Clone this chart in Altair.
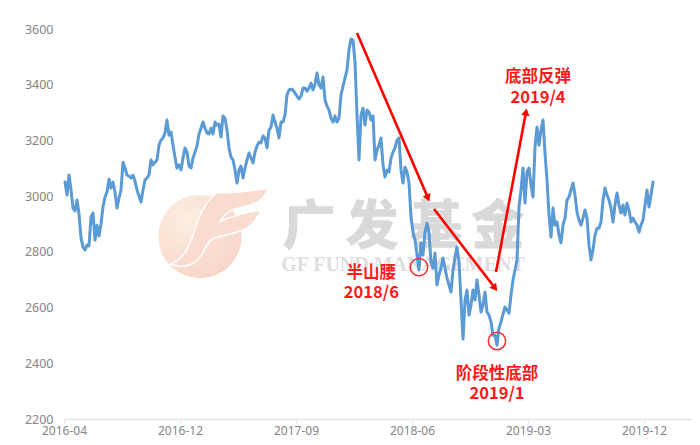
import altair as alt
import pandas as pd

index_values = [
3051,3004,3076,3022,2957,2947,2986,2936,2850,2817,2807,2824,2821,2925,2939,2842,2896,2857,2900,2961,
2997,3015,3061,3029,3051,3015,2957,2993,3022,3122,3101,3076,3072,3065,3076,3054,3022,3000,2979,3022,
3058,3065,3076,3130,3112,3122,3130,3183,3201,3209,3227,3273,3219,
3230,3183,3140,3101,3112,3094,3137,3173,3158,3108,3101,3137,3158,3180,3223,3244,3266,3244,3227,3223,
3244,3223,3266,3255,3259,3212,3288,3280,3237,3173,3140,3130,3094,3047,3094,3108,3065,3101,3130,3155,
3137,3119,3158,3180,3194,3191,3216,3209,3173,3237,3248,3291,3266,3244,3209,3266,3266,3291,3363,3381,
3384,3381,3370,3359,3349,3359,3388,3388,3377,3388,3406,3381,3402,3442,3399,3388,3428,3345,3323,3309,
3280,3266,3288,3266,3280,3363,3395,3424,3453,3525,3564,3560,
3481,3291,3130,3291,3316,3255,3309,3302,3273,3288,3130,3166,3183,3209,3112,3069,3094,3087,3137,3158,
3173,3201,3209,3094,3047,3104,3087,3047,2925,2871,2842,2789,2735,2832,2789,2871,2903,2871,2763,2742,
2796,2681,2717,2742,2778,2742,2706,2681,2656,2735,2781,2817,2763,2627,2487,2627,2663,2573,2609,2663,
2627,2699,2645,2584,2609,2656,2584,2573,2548,2501,2501,2465,2527,2548,2577,2602,2591,2580,2645,2699,
2735,2771,2961,3022,3101,2975,3087,3101,3040,2997,3176,3248,3183,3237,3273,3155,3058,2932,2853,2957,
2896,2907,2860,2832,2896,2921,2986,2997,3022,3047,3004,2943,2914,2896,2921,2950,2921,2824,2771,2807,
2860,2885,2885,2907,2986,3029,3004,2986,2957,2907,2968,3011,2968,2939,2968,2932,2975,2950,2907,2921,
2907,2896,2871,2896,2914,2968,3022,2961,3004,3051,
]
trading_days = [1.5 + 3 * i for i in range(len(index_values))]

tick_labels = ["2016-04", "2016-12", "2017-09", "2018-06", "2019-03", "2019-12"]
tick_days = [0, 174, 348, 522, 696, 870]
y_ticks = [2200, 2400, 2600, 2800, 3000, 3200, 3400, 3600]

arrow_day_start = [439.5, 555, 648]
arrow_val_start = [3586, 2954, 2728]
arrow_day_end = [546, 646.5, 693]
arrow_val_end = [2993, 2670, 3302]
arrow_angle = [156.7, 142.3, 10.6]

circle_days = [532.5, 649.5]
circle_vals = [2745, 2480]

note_text = ["半山腰", "2018/6", "阶段性底部", "2019/1", "底部反弹", "2019/4"]
note_days = [461, 461, 649.5, 649.5, 711, 711]
note_vals = [2723, 2653, 2360, 2291, 3427, 3354]

brand_chars = ["广", "发", "基", "金"]
brand_days = [367.5, 462, 558, 651]
brand_vals = [2886, 2886, 2886, 2886]

x_scale = alt.Scale(domain=[0, 942], nice=False, zero=False)
y_scale = alt.Scale(domain=[2200, 3600], nice=False, zero=False)
label_expr = "[" + ",".join(f"'{t}'" for t in tick_labels) + "][round(datum.value/174)]"
x_axis = alt.Axis(values=tick_days, labelExpr=label_expr, title=None, grid=False,
                  domainColor="#e3e3e3", domainWidth=1.5, tickColor="#e3e3e3", tickSize=4,
                  labelColor="#858585", labelFontSize=12, labelFont="Noto Sans", labelPadding=2,
                  labelFlush=False, labelOverlap=False)
y_axis = alt.Axis(values=y_ticks, format="d", title=None, grid=False, domain=False, ticks=False,
                  labelColor="#858585", labelFontSize=12.5, labelFont="Noto Sans", labelPadding=11)

X = alt.X("d:Q", scale=x_scale, axis=x_axis)
Y = alt.Y("v:Q", scale=y_scale, axis=y_axis)

main = pd.DataFrame({"d": trading_days, "v": index_values})
arrows = pd.DataFrame({"d": arrow_day_start, "v": arrow_val_start,
                       "d2": arrow_day_end, "v2": arrow_val_end, "a": arrow_angle})
circles = pd.DataFrame({"d": circle_days, "v": circle_vals})
notes = pd.DataFrame({"d": note_days, "v": note_vals, "t": note_text})
brand = pd.DataFrame({"d": brand_days, "v": brand_vals, "t": brand_chars})
logo_pos = pd.DataFrame({"d": [204], "v": [2855]})
sub_pos = pd.DataFrame({"d": [508.5], "v": [2753], "t": ["GF FUND MANAGEMENT"]})

disc = alt.Chart(logo_pos).mark_point(
    shape="circle", size=6940, filled=True, opacity=1, strokeWidth=0,
    fill=alt.RadialGradient(gradient="radial", x1=0.33, y1=0.3, x2=0.33, y2=0.3, r1=0, r2=0.85,
                            stops=[alt.GradientStop(offset=0, color="#fcefe0"),
                                   alt.GradientStop(offset=1, color="#f8d2c8")]),
).encode(x=X, y=Y)

f_path = ("M -.64 .59 Q -.3 .47 -.16 0 Q .04 -.71 .36 -.93 Q .9 -.92 1.45 -1.04 "
          "Q 1.36 -.75 1.1 -.68 Q .75 -.6 .6 -.52 Q .5 -.45 .43 -.32 Q .7 -.45 1.3 -.57 "
          "Q 1.2 -.3 .95 -.15 Q .6 -.03 .4 0 Q .2 .02 .08 .3 Q -.05 .6 -.35 .63 Q -.5 .63 -.64 .59 Z")
wing = alt.Chart(logo_pos).mark_point(
    shape=f_path, size=8836, filled=True, opacity=1, fill="#f9dccf", stroke="#ffffff", strokeWidth=1.5,
).encode(x=X, y=Y)

brand_text = alt.Chart(brand).mark_text(
    font="Noto Sans CJK SC", fontWeight="bold", fontSize=52, color="#d9d9d9",
    stroke="#d9d9d9", strokeWidth=1.5, baseline="middle", align="center",
).encode(x=X, y=Y, text="t:N")
sub_text = alt.Chart(sub_pos).mark_text(
    font="Liberation Serif", fontWeight="bold", fontSize=20, color="#dedede", baseline="middle", align="center",
).encode(x=X, y=Y, text="t:N")

line = alt.Chart(main).mark_line(color="#5b9bd5", strokeWidth=3, strokeJoin="round", strokeCap="round").encode(
    x=X, y=Y, order="d:Q")

shafts = alt.Chart(arrows).mark_rule(color="#ff0000", strokeWidth=2.6).encode(
    x=X, y=Y, x2="d2:Q", y2="v2:Q")
heads = alt.Chart(arrows).mark_point(shape="triangle-up", filled=True, color="#ff0000", size=70, opacity=1).encode(
    x=alt.X("d2:Q", scale=x_scale, axis=x_axis), y=alt.Y("v2:Q", scale=y_scale, axis=y_axis),
    angle=alt.Angle("a:Q", scale=None))

rings = alt.Chart(circles).mark_point(shape="circle", size=300, color="#f03030", strokeWidth=1.5, opacity=1, filled=False).encode(
    x=X, y=Y)

texts = alt.Chart(notes).mark_text(
    font="Noto Sans CJK SC", fontWeight="bold", fontSize=16.5, color="#ff1a1a", baseline="middle", align="center",
).encode(x=X, y=Y, text="t:N")

chart = alt.layer(disc, wing, brand_text, sub_text, line, shafts, heads, rings, texts).properties(
    width=628, height=390,
    autosize=alt.AutoSizeParams(type="none"),
    padding={"left": 56, "top": 21, "right": 0, "bottom": 18},
    background="white",
).configure_view(stroke=None)

chart.save("out.html", embed_options={"renderer": "svg", "actions": False})
